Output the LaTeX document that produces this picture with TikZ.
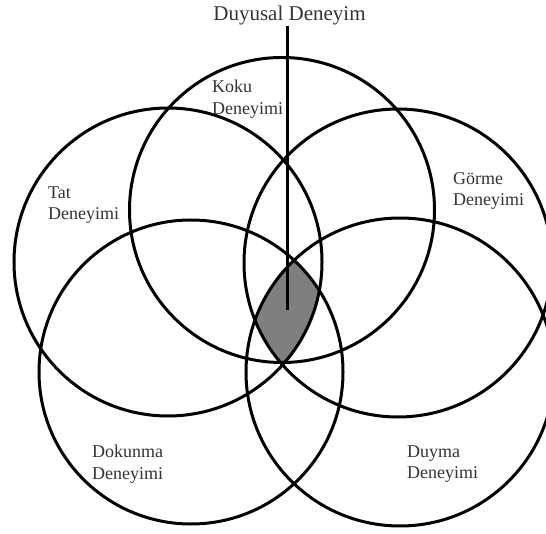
\documentclass[tikz,border=0pt]{standalone}
\usepackage{fontspec}
\setmainfont{Liberation Serif}
\definecolor{labelgray}{HTML}{333333}
\definecolor{shadegray}{HTML}{7F7F7F}
\begin{document}
\begin{tikzpicture}[x=1pt,y=-1pt,
  ring/.style={circle, draw=black, line width=3pt, inner sep=0pt, minimum size=2*#1 pt},
  lbl/.style={anchor=west, align=left, font=\fontsize{18}{21.5}\selectfont, text=labelgray, inner sep=0pt},
  ttl/.style={anchor=base, font=\fontsize{21}{24}\selectfont, text=labelgray, inner sep=0pt},
  stem/.style={draw=black, line width=3pt}
]
\fill[white] (0,0) rectangle (546,534);
\useasboundingbox (0,0) rectangle (546,534);
% circle centres
\coordinate (ckoku) at (282,210);
\coordinate (ctat) at (168,262);
\coordinate (cgorme) at (398,263);
\coordinate (cdok) at (191,372);
\coordinate (cduy) at (400,372);
% shaded common region
\begin{scope}
  \clip (ckoku) circle[radius=152.5];
  \clip (ctat) circle[radius=154];
  \clip (cgorme) circle[radius=154];
  \clip (cdok) circle[radius=152];
  \fill[shadegray] (cduy) circle[radius=154];
\end{scope}
% circles
\node[ring=152.5] (koku) at (ckoku) {};
\node[ring=154] (tat) at (ctat) {};
\node[ring=154] (gorme) at (cgorme) {};
\node[ring=152] (dok) at (cdok) {};
\node[ring=154] (duy) at (cduy) {};
% title and stem
\node[ttl] (title) at (289.5,21) {Duyusal Deneyim};
\coordinate (stemend) at (287,310);
\draw[stem] (stemend |- title.south) -- (stemend);
% labels
\node[lbl] (lkoku) at (212,99) {Koku\\Deneyimi};
\node[lbl] (ltat) at (48,205) {Tat\\Deneyimi};
\node[lbl] (lgorme) at (453,191) {Görme\\Deneyimi};
\node[lbl] (ldok) at (92,464) {Dokunma\\Deneyimi};
\node[lbl] (lduy) at (407,464) {Duyma\\Deneyimi};
\end{tikzpicture}
\end{document}
